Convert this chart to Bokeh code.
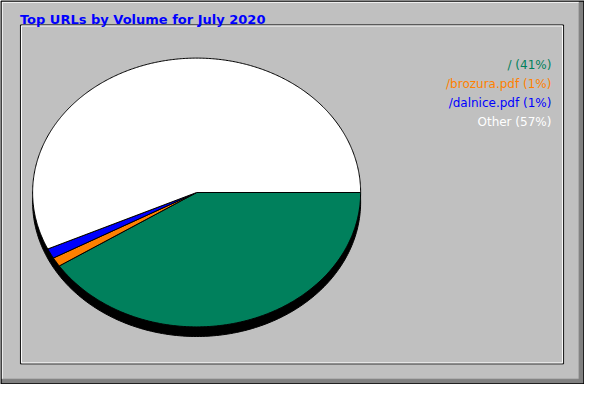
import numpy as np
from bokeh.plotting import figure
from bokeh.models import Range1d, ColumnDataSource
from bokeh.embed import file_html
from bokeh.resources import INLINE
from bokeh.core.properties import value

# ---- data ----
title = "Top URLs by Volume for July 2020"
urls = ["/", "/brozura.pdf", "/dalnice.pdf", "Other"]
percents = [40.8, 1.1, 1.2, 56.9]
colors = ["#00805C", "#FF8000", "#0000FF", "#FFFFFF"]

W, H = 584, 384
p = figure(width=W, height=H, output_backend="svg", toolbar_location=None,
           x_range=Range1d(0, 600), y_range=Range1d(400, 0),
           min_border=0, background_fill_color="#C0C0C0",
           border_fill_color="#C0C0C0", outline_line_color=None)
p.axis.visible = False
p.grid.visible = False

# ---- frame ----
# outer dark shadow bottom / right
p.quad(left=[594.5], right=[599], top=[1], bottom=[399], color="#808080")
p.quad(left=[1], right=[599], top=[394.5], bottom=[399], color="#808080")
# outer white highlight
p.segment(x0=[1.5, 1.5], y0=[1.5, 1.5], x1=[594, 1.5], y1=[1.5, 394], line_color="white", line_width=1.5)
# outer black border
p.segment(x0=[0.5, 0.5, 599.5, 0.5], y0=[0.5, 0.5, 0.5, 399.5],
          x1=[599.5, 0.5, 599.5, 599.5], y1=[0.5, 399.5, 399.5, 399.5],
          line_color="black", line_width=1.5)
# inner panel: black outer rect, white inner rect
p.quad(left=[20.5], right=[578.5], top=[25.5], bottom=[378.5], fill_color=None,
       line_color="black", line_width=1)
p.quad(left=[21.5], right=[577.5], top=[26.5], bottom=[377.5], fill_color=None,
       line_color="white", line_width=1)

# ---- title ----
p.text(x=[20], y=[19.5], text=[title], text_color="#0000FF",
       text_font=value("DejaVu Sans"), text_font_style="bold",
       text_font_size="13px", text_baseline="alphabetic", text_align="left")

# ---- pie ----
cx, cy, rx, ry = 201.5, 200.0, 168.5, 140.0
shadow = 10
t = np.linspace(0, 2 * np.pi, 361)
p.patch(cx + rx * np.cos(t), cy + shadow + ry * np.sin(t), fill_color="black",
        line_color="black", line_width=1)

fr = np.array(percents) / sum(percents)
ends = np.cumsum(fr) * 2 * np.pi
starts = ends - fr * 2 * np.pi
xs, ys = [], []
for a0, a1 in zip(starts, ends):
    n = max(4, int((a1 - a0) / (2 * np.pi) * 720))
    a = np.linspace(a0, a1, n)
    xs.append(np.concatenate([[cx], cx + rx * np.cos(a), [cx]]))
    ys.append(np.concatenate([[cy], cy + ry * np.sin(a), [cy]]))
p.patches(xs=xs, ys=ys, fill_color=colors, line_color="black", line_width=1)

# ---- legend ----
labels = [f"{u} ({round(v)}%)" for u, v in zip(urls, percents)]
ly = [67 + 20 * i for i in range(len(labels))]
src = ColumnDataSource(dict(x=[566] * len(labels), y=ly, text=labels, color=colors))
p.text(x="x", y="y", text="text", text_color="color", source=src,
       text_font=value("DejaVu Sans"), text_font_size="12px",
       text_align="right", text_baseline="alphabetic")

open("out.html", "w").write(file_html(p, INLINE))
